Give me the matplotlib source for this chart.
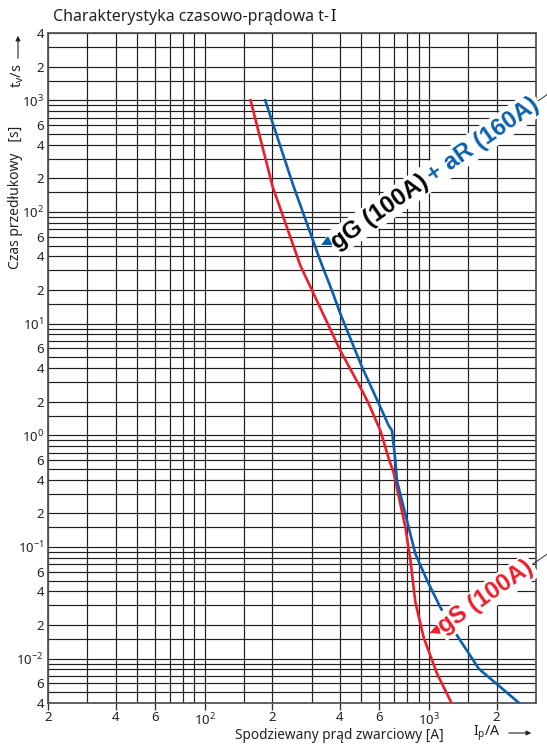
import numpy as np
import matplotlib
matplotlib.use("Agg")
from matplotlib import pyplot as plt
from matplotlib.ticker import NullFormatter
from matplotlib.lines import Line2D

plt.rcParams['font.family'] = ['Noto Sans', 'DejaVu Sans']
plt.rcParams['mathtext.fontset'] = 'custom'
plt.rcParams['mathtext.rm'] = 'Noto Sans'
plt.rcParams['mathtext.it'] = 'Noto Sans:italic'

# gS (100A) - prad [A] / czas [s]
gs_I = [160, 201, 267, 301, 402, 503, 538, 607, 661, 696, 785, 827, 869, 947, 1087, 1268]
gs_t = [1000, 167, 33, 19.8, 5.74, 2.51, 1.92, 1.10, 0.62, 0.46, 0.149, 0.075, 0.032, 0.0154, 0.0073, 0.0039]

# gG (100A) + aR (160A)
gg_I = [186, 248, 327, 369, 402, 503, 597, 661, 684, 708, 720, 798, 869, 981, 1125, 1336, 1668, 2560]
gg_t = [1000, 173, 36.8, 19.8, 12.3, 4.07, 1.92, 1.22, 1.10, 0.59, 0.39, 0.171, 0.087, 0.050, 0.0286, 0.016, 0.0081, 0.0039]

x_ticks = [20, 40, 60, 100, 200, 400, 600, 1000, 2000]
x_ticklabels = ['2', '4', '6', r'$\mathregular{10^{2}}$', '2', '4', '6', r'$\mathregular{10^{3}}$', '2']
x_minor = [30, 50, 70, 80, 90, 150, 300, 500, 700, 800, 900, 1500]

y_ticks = [0.004, 0.006, 0.01, 0.02, 0.04, 0.06, 0.1, 0.2, 0.4, 0.6, 1, 2, 4, 6,
           10, 20, 40, 60, 100, 200, 400, 600, 1000, 2000, 4000]
y_ticklabels = ['4', '6', r'$\mathregular{10^{-2}}$', '2', '4', '6', r'$\mathregular{10^{-1}}$',
                '2', '4', '6', r'$\mathregular{10^{0}}$', '2', '4', '6', r'$\mathregular{10^{1}}$',
                '2', '4', '6', r'$\mathregular{10^{2}}$', '2', '4', '6', r'$\mathregular{10^{3}}$',
                '2', '4']
y_minor = [0.005, 0.007, 0.008, 0.009, 0.015, 0.03, 0.05, 0.07, 0.08, 0.09, 0.15, 0.3,
           0.5, 0.7, 0.8, 0.9, 1.5, 3, 5, 7, 8, 9, 15, 30, 50, 70, 80, 90, 150, 300,
           500, 700, 800, 900, 1500, 3000]

W, H = 547, 744
fig = plt.figure(figsize=(W / 100, H / 100), dpi=100)
ax = fig.add_axes([48 / W, 1 - 703 / H, (536 - 48) / W, (703 - 33) / H])
ax.set_xscale('log')
ax.set_yscale('log')
ax.set_xlim(20, 3000)
ax.set_ylim(0.004, 4000)

ax.set_xticks(x_ticks, x_ticklabels)
ax.set_xticks(x_minor, minor=True)
ax.set_yticks(y_ticks, y_ticklabels)
ax.set_yticks(y_minor, minor=True)
ax.xaxis.set_minor_formatter(NullFormatter())
ax.yaxis.set_minor_formatter(NullFormatter())
ax.tick_params(which='minor', length=0)
ax.tick_params(axis='x', which='major', length=5, width=1, color='#333333', pad=1,
               labelsize=9.5, labelcolor='#222222')
ax.tick_params(axis='y', which='major', length=0, pad=3,
               labelsize=9.5, labelcolor='#222222')
ax.grid(True, which='both', color='#1e1e1e', linewidth=0.85)
ax.set_axisbelow(True)
for sp in ax.spines.values():
    sp.set_color('#555555')
    sp.set_linewidth(1.3)

red = '#ee1d2a'
blue = '#0a5fae'
ax.plot(gs_I, gs_t, color=red, lw=1.9, zorder=3)
ax.plot(gg_I, gg_t, color=blue, lw=1.9, zorder=3)

# curve labels
ang = 35
fig.canvas.draw()
rend = fig.canvas.get_renderer()
lab_kw = dict(fontsize=17.2, fontweight='bold', family='Liberation Sans', rotation=ang,
              rotation_mode='anchor', ha='left', va='center', zorder=5,
              bbox=dict(fc='white', ec='none', pad=1.5))
u = np.array([np.cos(np.radians(ang)), np.sin(np.radians(ang))])


def flat_width(txt):
    txt.set_rotation(0)
    w = txt.get_window_extent(rend).width
    txt.set_rotation(ang)
    return w


t1 = ax.text(374, 51.2, 'gG (100A)', color='black', **lab_kw)
w1 = flat_width(t1)
p0 = ax.transData.transform((374, 51.2))
p1 = p0 + (w1 + 4) * u
x1, y1 = ax.transData.inverted().transform(p1)
t2 = ax.text(x1, y1, '+ aR (160A)', color=blue, **lab_kw)
w2 = flat_width(t2)
e1 = p1 + (w2 + 2) * u
e1b = e1 + 20 * u
fig.add_artist(Line2D([e1[0] / W, e1b[0] / W], [e1[1] / H, e1b[1] / H], color='#333333', lw=0.7))

ax.annotate('', xy=(322, 49.4), xytext=(363, 55.6),
            arrowprops=dict(arrowstyle='-|>', color=blue, lw=0.8, mutation_scale=15), zorder=6)

t3 = ax.text(1125, 0.0185, 'gS (100A)', color=red, **lab_kw)
w3 = flat_width(t3)
p3 = ax.transData.transform((1125, 0.0185))
e3 = p3 + (w3 + 2) * u
e3b = e3 + 20 * u
fig.add_artist(Line2D([e3[0] / W, e3b[0] / W], [e3[1] / H, e3b[1] / H], color='#333333', lw=0.7))
ax.annotate('', xy=(981, 0.01652), xytext=(1145, 0.0189),
            arrowprops=dict(arrowstyle='-|>', color=red, lw=0.8, mutation_scale=15), zorder=6)

# title and axis captions
tt = fig.text(53 / W, 1 - 17 / H, 'Charakterystyka czasowo-prądowa t-',
              fontsize=11.5, ha='left', va='center', color='#222222')
tw = tt.get_window_extent(rend).width
fig.text((53 + tw + 1) / W, 1 - 17 / H, 'I', fontsize=11.5, fontweight='bold',
         ha='left', va='center', color='#111111')
fig.text(16 / W, 1 - 197 / H, 'Czas przedłukowy   [s]', rotation=90, fontsize=10,
         ha='center', va='center', color='#222222')
fig.text(18 / W, 1 - 76 / H, '$\\mathregular{t_v/s}$', rotation=90, fontsize=10.5,
         ha='center', va='center', color='#222222')
fig.add_artist(matplotlib.patches.FancyArrowPatch((18 / W, 1 - 61 / H), (18 / W, 1 - 33 / H),
               transform=fig.transFigure, arrowstyle='-|>', mutation_scale=7,
               color='#222222', lw=0.8))
fig.text(339 / W, 1 - 739 / H, 'Spodziewany prąd zwarciowy [A]', fontsize=9.8,
         ha='center', va='baseline', color='#222222')
fig.text(473 / W, 1 - 736 / H, '$\\mathregular{I_p/A}$', fontsize=10.2,
         ha='left', va='baseline', color='#222222')
fig.add_artist(matplotlib.patches.FancyArrowPatch((506 / W, 1 - 733 / H), (534 / W, 1 - 733 / H),
               transform=fig.transFigure, arrowstyle='-|>', mutation_scale=7,
               color='#222222', lw=0.8))

fig.savefig('out.png', dpi=100)
